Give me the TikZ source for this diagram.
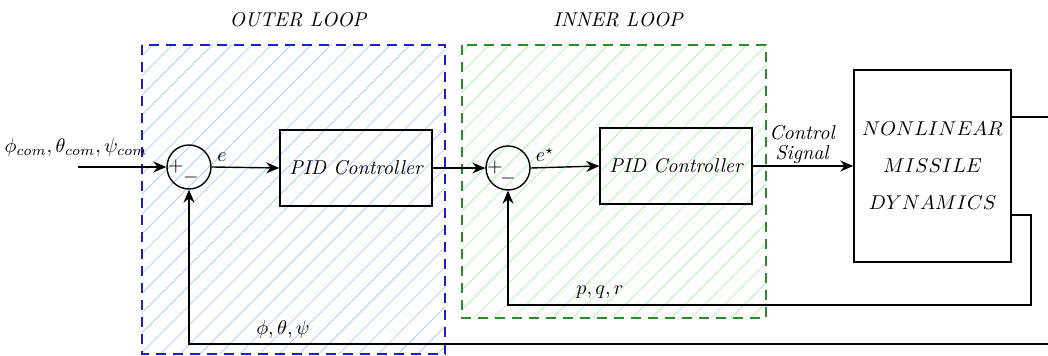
\documentclass[tikz,border=0pt]{standalone}
\usetikzlibrary{arrows.meta,patterns.meta}
\definecolor{hatchblue}{RGB}{175,205,245}
\definecolor{hatchgreen}{RGB}{175,238,175}
\definecolor{loopblue}{RGB}{30,30,200}
\definecolor{loopgreen}{RGB}{40,140,40}
\begin{document}
\begin{tikzpicture}[x=0.5pt,y=-0.5pt,
  line width=0.7pt,
  blk/.style={draw, minimum width=76pt, minimum height=38pt, inner sep=0pt, font=\itshape},
  sumnode/.style={draw, circle, minimum size=22pt, inner sep=0pt},
  arr/.style={-{Stealth[length=6.5pt,width=5.5pt]}},
  loopbox/.style={dash pattern=on 5pt off 3.5pt, line width=0.6pt},
  lbl/.style={inner sep=1pt}]
\useasboundingbox (0,0) rectangle (1048,356);
% loop regions
\path[pattern={Lines[angle=45,distance=7pt,line width=0.4pt]}, pattern color=hatchblue] (142,45) rectangle (445,354);
\draw[loopbox, draw=loopblue] (142,45) rectangle (445,354);
\path[pattern={Lines[angle=45,distance=7pt,line width=0.4pt]}, pattern color=hatchgreen] (462,45) rectangle (766,318);
\draw[loopbox, draw=loopgreen] (462,45) rectangle (766,318);
\node[lbl, font=\itshape] (tout) at (298,20) {OUTER LOOP};
\node[lbl, font=\itshape] (tin) at (618,20) {INNER LOOP};
% blocks
\node[sumnode] (s1) at (189,167) {};
\node[sumnode] (s2) at (508,168) {};
\node[blk] (pid1) at (356,168) {PID Controller};
\node[blk] (pid2) at (676,166) {PID Controller};
\node[draw, minimum width=78.5pt, minimum height=96pt, inner sep=0pt, align=center] (nl) at (932.5,166)
  {$NONLINEAR$\\[6.5pt]$MISSILE$\\[6.5pt]$DYNAMICS$};
% signs
\node[inner sep=0pt] (p1) at (176,167) {$+$};
\node[inner sep=0pt] (m1) at (191,178) {$-$};
\node[inner sep=0pt] (p2) at (495,168) {$+$};
\node[inner sep=0pt] (m2) at (508,179) {$-$};
% coordinates
\coordinate (in) at (78,167);
\coordinate (o1) at (1048,117);
\coordinate (o2) at (1048,344);
\coordinate (c1) at (1031,215);
\coordinate (c2) at (1031,305);
% connectors
\draw[arr] (in) -- (s1.west);
\draw[arr] (s1.east) -- (pid1.west);
\draw[arr] (pid1.east) -- (s2.west);
\draw[arr] (s2.east) -- (pid2.west);
\draw[arr] (pid2.east) -- (nl.west |- pid2.east);
\draw (nl.east |- o1) -- (o1);
\draw[arr] (nl.east |- c1) -- (c1) -- (c2) -- (s2.south |- c2) -- (s2.south);
\draw[arr] (o2) -- (s1.south |- o2) -- (s1.south);
% labels
\node[lbl] (lin) at (76,148) {$\phi_{com},\theta_{com},\psi_{com}$};
\node[lbl] (le) at (222,157) {$e$};
\node[lbl] (les) at (545,155) {$e^{\star}$};
\node[lbl, align=center, font=\itshape, inner sep=0pt] (lcs) at (802,145) {Control\\[-2pt]Signal};
\node[lbl] (lpqr) at (600,292) {$p,q,r$};
\node[lbl] (lang) at (283,330) {$\phi,\theta,\psi$};
\end{tikzpicture}
\end{document}
